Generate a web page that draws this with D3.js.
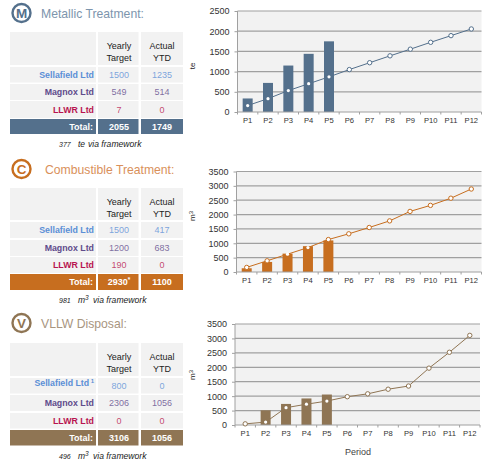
<!DOCTYPE html>
<html><head><meta charset="utf-8">
<script src="https://cdn.jsdelivr.net/npm/d3@7"></script>
<style>html,body{margin:0;padding:0;background:#fff}svg{display:block}text{font-family:"Liberation Sans",Arial,sans-serif}</style>
</head><body><svg id="c" width="486" height="463"></svg>
<script>
const periods = ["P1","P2","P3","P4","P5","P6","P7","P8","P9","P10","P11","P12"];
const companies = ["Sellafield Ltd","Magnox Ltd","LLWR Ltd"];
const companyColors = ["#5b8fd6","#5f4b8b","#b8144f"];

const metallicBars = [335,720,1150,1440,1749];
const metallicLine = [160,330,530,700,870,1050,1220,1390,1555,1725,1890,2055];
const metallicTicks = [0,500,1000,1500,2000,2500];
const metallicTarget = ["1500","549","7"];
const metallicActual = ["1235","514","0"];

const combustibleBars = [130,350,640,900,1100];
const combustibleLine = [160,390,620,850,1130,1330,1550,1780,2110,2320,2570,2890];
const combustibleTicks = [0,500,1000,1500,2000,2500,3000,3500];
const combustibleTarget = ["1500","1200","190"];
const combustibleActual = ["417","683","0"];

const vllwBars = [0,510,730,920,1056];
const vllwLine = [40,100,600,720,830,980,1080,1240,1350,1970,2520,3106];
const vllwTicks = [0,500,1000,1500,2000,2500,3000,3500];
const vllwTarget = ["800","2306","0"];
const vllwActual = ["0","1056","0"];

const panels = [
 {title:"Metallic Treatment:",letter:"M",color:"#54708c",titleColor:"#7d95ad",titleX:41,bars:metallicBars,line:metallicLine,ticks:metallicTicks,max:2500,
  target:metallicTarget,actual:metallicActual,total:["2055","1749"],star:false,note1:"377",unit:"te",sup:false,noteY:146.5,
  iconY:13,titleY:17.5,rows:[[32,33],[67,15.5],[84,16],[101,17],[119,15]],
  plot:{l:237.5,r:481.5,t:11,b:112},unitLabel:"te",unitY:66},
 {title:"Combustible Treatment:",letter:"C",color:"#c76e1f",titleColor:"#d9905a",titleX:45,bars:combustibleBars,line:combustibleLine,ticks:combustibleTicks,max:3500,
  target:combustibleTarget,actual:combustibleActual,total:["2930","1100"],star:true,note1:"981",unit:"m",sup:true,noteY:303,
  iconY:169,titleY:173.5,rows:[[188,32],[222,16],[240,16],[257,16],[274,16]],
  plot:{l:236.5,r:481.5,t:171.5,b:272},unitLabel:"m",unitY:216},
 {title:"VLLW Disposal:",letter:"V",color:"#8f7554",titleColor:"#a8957f",titleX:41,bars:vllwBars,line:vllwLine,ticks:vllwTicks,max:3500,
  target:vllwTarget,actual:vllwActual,total:["3106","1056"],star:false,note1:"496",unit:"m",sup:true,noteY:459,
  iconY:323,titleY:328,rows:[[343,33],[378,15.5],[395,16],[413,15.5],[430,15.5]],
  plot:{l:235,r:480,t:324,b:425},unitLabel:"m",unitY:375,footnote:true,xTitle:"Period"}
];

const svg = d3.select("#c");
const cols = [[10,86],[98,40.5],[141,42]];
const cellBg = "#f2f2f2";

panels.forEach(p=>{
  const g = svg.append("g");
  // icon and heading
  g.append("circle").attr("cx",21.5).attr("cy",p.iconY).attr("r",9).attr("fill","#fff").attr("stroke",p.color).attr("stroke-width",2.4);
  g.append("text").attr("x",21.5).attr("y",p.iconY+4.8).attr("text-anchor","middle").attr("font-size",13.5).attr("font-weight","bold").attr("fill",p.color).text(p.letter);
  g.append("text").attr("x",p.titleX).attr("y",p.titleY).attr("font-size",12.2).attr("fill",p.titleColor).text(p.title);

  // table
  p.rows.forEach((r,i)=>{
    cols.forEach(c=>{
      g.append("rect").attr("x",c[0]).attr("y",r[0]).attr("width",c[1]).attr("height",r[1]).attr("fill",i===4?p.color:cellBg);
    });
  });
  const cx2 = 119, cx3 = 162;
  const hdr = p.rows[0];
  [["Yearly","Target",cx2],["Actual","YTD",cx3]].forEach(h=>{
    g.append("text").attr("x",h[2]).attr("y",hdr[0]+17).attr("text-anchor","middle").attr("font-size",9).attr("fill","#222").text(h[0]);
    g.append("text").attr("x",h[2]).attr("y",hdr[0]+29).attr("text-anchor","middle").attr("font-size",9).attr("fill","#222").text(h[1]);
  });
  companies.forEach((name,i)=>{
    const r = p.rows[i+1], base = r[0]+r[1]/2+3;
    const t = g.append("text").attr("x",94).attr("y",p.footnote&&i===0?base-2.5:base).attr("text-anchor","end")
      .attr("font-size",8.8).attr("font-weight","bold").attr("fill",companyColors[i]).text(name);
    if(p.footnote&&i===0){ t.append("tspan").attr("font-size",6).attr("dx",1.5).attr("dy",-3).text("1"); }
    g.append("text").attr("x",cx2).attr("y",base).attr("text-anchor","middle").attr("font-size",9).attr("fill",companyColors[i]).attr("fill-opacity",.8).text(p.target[i]);
    g.append("text").attr("x",cx3).attr("y",base).attr("text-anchor","middle").attr("font-size",9).attr("fill",companyColors[i]).attr("fill-opacity",.8).text(p.actual[i]);
  });
  const tr = p.rows[4], tb = tr[0]+tr[1]/2+3;
  g.append("text").attr("x",93).attr("y",tb).attr("text-anchor","end").attr("font-size",9).attr("font-weight","bold").attr("fill","#fff").text("Total:");
  const tt = g.append("text").attr("x",cx2).attr("y",tb).attr("text-anchor","middle").attr("font-size",9).attr("font-weight","bold").attr("fill","#fff").text(p.total[0]);
  if(p.star) tt.append("tspan").attr("font-size",6.5).attr("dy",-3).text("*");
  g.append("text").attr("x",cx3).attr("y",tb).attr("text-anchor","middle").attr("font-size",9).attr("font-weight","bold").attr("fill","#fff").text(p.total[1]);

  // footnote under the table
  g.append("text").attr("x",59).attr("y",p.noteY).attr("font-size",7).attr("font-style","italic").attr("fill","#222").text(p.note1);
  g.append("text").attr("x",78).attr("y",p.noteY).attr("font-size",8.5).attr("font-style","italic").attr("fill","#222").text(p.unit);
  if(p.sup) g.append("text").attr("x",85).attr("y",p.noteY-3.5).attr("font-size",6.5).attr("font-style","italic").attr("fill","#222").text("3");
  g.append("text").attr("x",p.sup?93:88).attr("y",p.noteY).attr("font-size",8.6).attr("font-style","italic").attr("fill","#222").text("via framework");

  // chart
  const x = d3.scaleBand().domain(periods).range([p.plot.l,p.plot.r]);
  const y = d3.scaleLinear().domain([0,p.max]).range([p.plot.b,p.plot.t]);
  g.append("rect").attr("x",p.plot.l).attr("y",p.plot.t).attr("width",p.plot.r-p.plot.l).attr("height",p.plot.b-p.plot.t).attr("fill",cellBg);
  g.selectAll(null).data(p.ticks.filter(d=>d>0)).join("line")
    .attr("x1",p.plot.l).attr("x2",p.plot.r).attr("y1",d=>y(d)).attr("y2",d=>y(d))
    .attr("stroke","#a0a0a0").attr("stroke-width",1.2);

  const yAxis = d3.axisLeft(y).tickValues(p.ticks).tickFormat(d3.format("d")).tickSize(3).tickPadding(5);
  const ya = g.append("g").attr("transform",`translate(${p.plot.l},0)`).call(yAxis);
  ya.selectAll("text").attr("font-size",9).attr("fill","#333");
  ya.select(".domain").attr("stroke","#a0a0a0").attr("d",`M0,${p.plot.t}V${p.plot.b}`);
  ya.selectAll(".tick line").attr("stroke","#a0a0a0");

  g.selectAll(null).data(p.bars).join("rect")
    .attr("x",(d,i)=>x(periods[i])+x.bandwidth()/2-5)
    .attr("y",d=>y(d)).attr("width",10).attr("height",d=>p.plot.b-y(d)).attr("fill",p.color);

  const xAxis = d3.axisBottom(x).tickSize(0).tickPadding(6);
  const xa = g.append("g").attr("transform",`translate(0,${p.plot.b})`).call(xAxis);
  xa.selectAll("text").attr("font-size",7.6).attr("fill","#333");
  xa.select(".domain").attr("stroke","#a0a0a0").attr("stroke-width",1.2).attr("d",`M${p.plot.l},0H${p.plot.r}`);
  g.selectAll(null).data(d3.range(13)).join("line")
    .attr("x1",i=>p.plot.l+i*x.step()).attr("x2",i=>p.plot.l+i*x.step())
    .attr("y1",p.plot.b).attr("y2",p.plot.b+2.5).attr("stroke","#a0a0a0");

  const pts = p.line.map((v,i)=>({v,i}));
  g.append("path").attr("fill","none").attr("stroke",p.color).attr("stroke-width",1)
    .attr("d",d3.line().x(d=>x(periods[d.i])+x.bandwidth()/2).y(d=>y(d.v))(pts));
  g.selectAll(null).data(pts).join("circle")
    .attr("cx",d=>x(periods[d.i])+x.bandwidth()/2).attr("cy",d=>y(d.v))
    .attr("r",d=>d.i<p.bars.length&&p.bars[d.i]>=d.v?1.6:2.2)
    .attr("fill","#fff")
    .attr("stroke",p.color)
    .attr("stroke-width",d=>d.i<p.bars.length&&p.bars[d.i]>=d.v?0:1);

  // y axis unit
  const ul = g.append("text").attr("transform",`translate(195,${p.unitY}) rotate(-90)`).attr("text-anchor","middle").attr("font-size",8).attr("fill","#222").text(p.unitLabel);
  if(p.sup) ul.append("tspan").attr("font-size",6).attr("dy",-2.5).text("3");
  if(p.xTitle) g.append("text").attr("x",358).attr("y",455).attr("text-anchor","middle").attr("font-size",9).attr("fill","#444").text(p.xTitle);
});
</script></body></html>
